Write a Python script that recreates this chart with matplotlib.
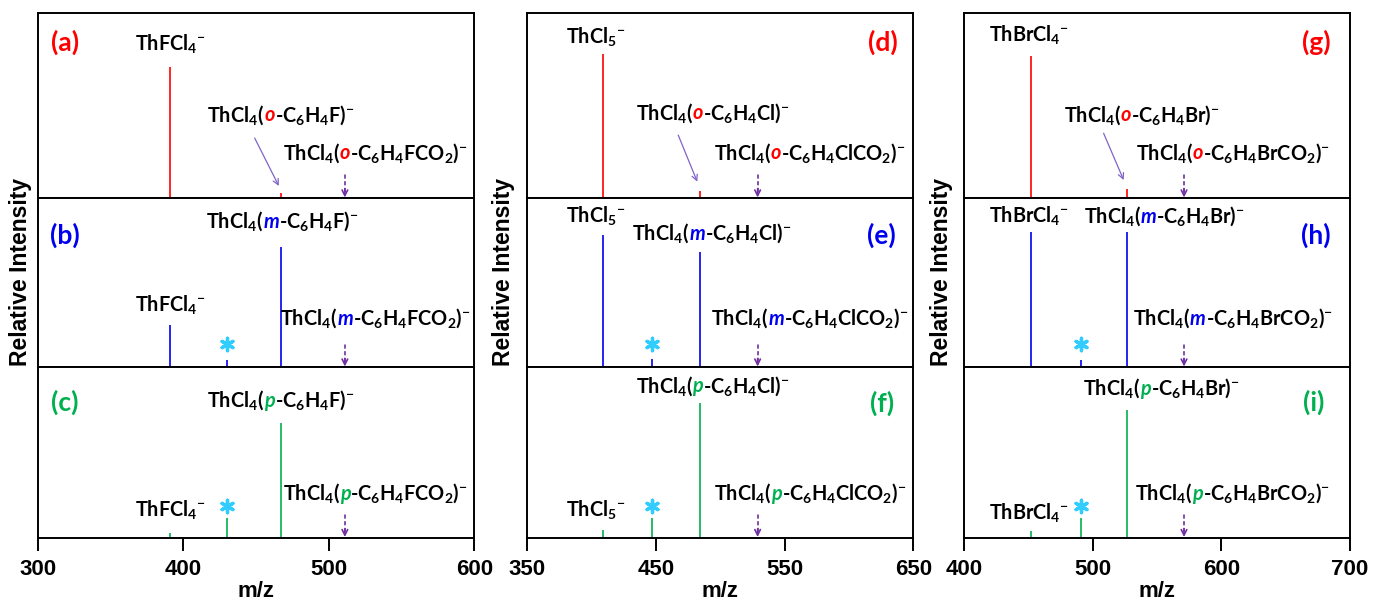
import matplotlib
matplotlib.use('Agg')
import matplotlib.pyplot as plt
from matplotlib.offsetbox import TextArea, HPacker, AnnotationBbox

plt.rcParams['mathtext.fontset'] = 'custom'
plt.rcParams['mathtext.rm'] = 'Lato:bold'
plt.rcParams['mathtext.it'] = 'Lato:italic:bold'
plt.rcParams['mathtext.bf'] = 'Lato:bold'

# ---- data ----
x_ranges = [(300, 600), (350, 650), (400, 700)]
x_ticks = [[300, 400, 500, 600], [350, 450, 550, 650], [400, 500, 600, 700]]
halogens = ['F', 'Cl', 'Br']
parent_ions = ['ThFCl$_4{}^{-}$', 'ThCl$_5{}^{-}$', 'ThBrCl$_4{}^{-}$']
isomers = ['o', 'm', 'p']
panel_tags = [['(a)', '(b)', '(c)'], ['(d)', '(e)', '(f)'], ['(g)', '(h)', '(i)']]

# m/z of the peaks in each column
parent_mz = [391, 409, 452]
aryl_mz = [467, 484, 527]
impurity_mz = [430, 447, 491]
carboxylate_mz = [511, 529, 571]

# relative intensities, rows o / m / p
parent_int = [[0.71, 0.25, 0.025], [0.78, 0.78, 0.044], [0.77, 0.80, 0.038]]
aryl_int = [[0.027, 0.71, 0.67], [0.04, 0.68, 0.79], [0.05, 0.80, 0.75]]
impurity_int = [[0.0, 0.04, 0.116], [0.0, 0.045, 0.116], [0.0, 0.04, 0.116]]

# ---- styles / layout ----
row_colors = ['#FF0000', '#0000F0', '#00B050']
star_color = '#33CCFF'
arrow_color = '#7030A0'
thin_arrow_color = '#8064C8'
label_font = dict(fontfamily='Lato', fontweight='bold', fontsize=14.3)
axis_font = dict(fontfamily='Liberation Sans', fontweight='bold')

col_left = [38, 527.3, 964]
col_right = [474.3, 913.3, 1350]
row_edges = [13, 198, 367, 537.5]
W, H = 1373, 606

tag_pos = [[(0.062, 0.84), (0.062, 0.78), (0.062, 0.79)],
           [(0.92, 0.84), (0.918, 0.78), (0.918, 0.787)],
           [(0.912, 0.84), (0.912, 0.78), (0.905, 0.79)]]
parent_lab = [[(391, 0.83), (391, 0.367), (391, 0.16)],
              [(403.4, 0.87), (403.4, 0.89), (403.4, 0.16)],
              [(450.7, 0.88), (450.7, 0.89), (450.7, 0.14)]]
aryl_lab = [[(467, 0.45), (468, 0.86), (467, 0.806)],
            [(494, 0.46), (493.3, 0.79), (494, 0.89)],
            [(538, 0.45), (555.8, 0.89), (553.2, 0.875)]]
co2_lab_x = [532, 569.6, 608.8]
co2_lab_y = [0.245, 0.288, 0.26]
star_y = [None, 0.136, 0.185]
dash_top = [0.14, 0.15, 0.146]
thin_arrow = [(449, 0.324, 465.6, 0.065), (467.3, 0.34, 482.1, 0.088),
              (508.5, 0.35, 524.1, 0.097)]


def formula_box(ax, x, y, pieces, iso_color):
    children = []
    for i, p in enumerate(pieces):
        props = dict(label_font, color='black')
        if i == 1:
            props.update(color=iso_color, fontstyle='italic')
        children.append(TextArea(p, textprops=props))
    box = HPacker(children=children, align='baseline', pad=0, sep=0)
    ab = AnnotationBbox(box, (x, y), xycoords='data', frameon=False,
                        box_alignment=(0.5, 0.5), pad=0, annotation_clip=False)
    ax.add_artist(ab)


fig = plt.figure(figsize=(W / 100, H / 100), dpi=100)

for c in range(3):
    for r in range(3):
        y_top, y_bot = row_edges[r], row_edges[r + 1]
        ax = fig.add_axes([col_left[c] / W, (H - y_bot) / H,
                           (col_right[c] - col_left[c]) / W, (y_bot - y_top) / H])
        ax.set_xlim(*x_ranges[c])
        ax.set_ylim(0, 1)
        for s in ax.spines.values():
            s.set_linewidth(1.4)
        ax.set_yticks([])
        color = row_colors[r]

        mz = [parent_mz[c], aryl_mz[c], impurity_mz[c]]
        it = [parent_int[c][r], aryl_int[c][r], impurity_int[c][r]]
        ax.vlines(mz, 0, it, colors=color, linewidth=1.2)

        # panel tag
        ax.text(tag_pos[c][r][0], tag_pos[c][r][1], panel_tags[c][r],
                transform=ax.transAxes, ha='center', va='center',
                color=color, fontfamily='Lato', fontweight='bold', fontsize=19)

        # labels
        px, py = parent_lab[c][r]
        ax.text(px, py, parent_ions[c], ha='center', va='center', **label_font)
        ax_, ay_ = aryl_lab[c][r]
        formula_box(ax, ax_, ay_,
                    ['ThCl$_4$(', isomers[r], '-C$_6$H$_4$' + halogens[c] + ')$^{-}$'],
                    color)
        formula_box(ax, co2_lab_x[c], co2_lab_y[r],
                    ['ThCl$_4$(', isomers[r],
                     '-C$_6$H$_4$' + halogens[c] + 'CO$_2$)$^{-}$'], color)

        # dashed arrow to the missing carboxylate
        xm = carboxylate_mz[c]
        ax.vlines(xm, 0.03, dash_top[r], colors=arrow_color,
                  linestyles=(0, (2.5, 1.5)), linewidth=1.2)
        ax.annotate('', xy=(xm, 0.003), xytext=(xm, 0.05),
                    arrowprops=dict(arrowstyle='->', color=arrow_color, lw=1.2,
                                    shrinkA=0, shrinkB=0, mutation_scale=10))

        if star_y[r] is not None:
            ax.scatter([impurity_mz[c]], [star_y[r]], marker=(6, 2, 0), s=80,
                       linewidths=2.4, color=star_color, zorder=5)

        if r == 0:
            x0, y0, x1, y1 = thin_arrow[c]
            ax.annotate('', xy=(x1, y1), xytext=(x0, y0),
                        arrowprops=dict(arrowstyle='->', color=thin_arrow_color,
                                        lw=0.9, shrinkA=0, shrinkB=0,
                                        mutation_scale=10))

        if r == 2:
            ax.set_xticks(x_ticks[c])
            ax.tick_params(axis='x', direction='out', length=9.5, width=1.4, pad=6)
            for lab in ax.get_xticklabels():
                lab.set_fontfamily('Liberation Sans')
                lab.set_fontweight('bold')
                lab.set_fontsize(16)
            ax.set_xlabel('m/z', fontsize=16, labelpad=1, **axis_font)
        else:
            ax.set_xticks([])

        if r == 1:
            ax.set_ylabel('Relative Intensity', fontsize=16.5, **axis_font)
            ax.yaxis.set_label_coords([-0.014, -0.032, -0.028][c], 0.56)

fig.savefig('out.png', dpi=100, facecolor='white')
